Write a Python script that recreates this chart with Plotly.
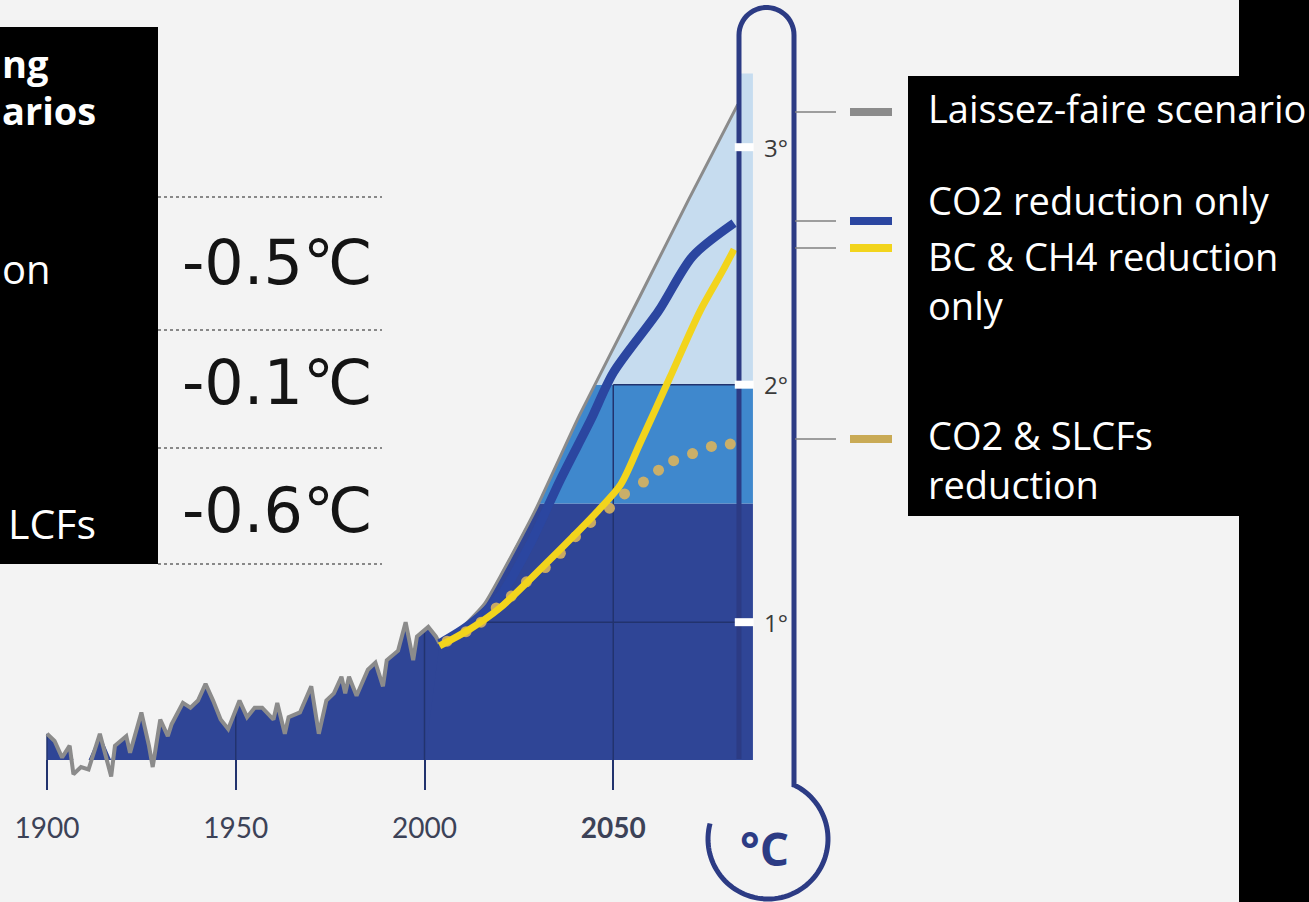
import numpy as np
import plotly.graph_objects as go

W, H = 1309, 902

# ---------------- data ----------------
hist_years = [1900, 1902, 1904, 1906, 1907, 1909, 1911, 1914, 1917, 1918, 1921, 1922,
              1925, 1927, 1928, 1930, 1932, 1933, 1936, 1938, 1940, 1942, 1944, 1946,
              1948, 1951, 1953, 1955, 1957, 1960, 1961, 1963, 1964, 1967, 1970, 1972,
              1974, 1976, 1978, 1979, 1980, 1982, 1985, 1987, 1989, 1990, 1993, 1995,
              1997, 1998, 2001, 2003, 2004]
hist_temp = [0.53, 0.50, 0.43, 0.48, 0.36, 0.39, 0.38, 0.53, 0.35, 0.48, 0.52, 0.45,
             0.62, 0.48, 0.39, 0.59, 0.52, 0.57, 0.66, 0.64, 0.67, 0.74, 0.67, 0.59,
             0.55, 0.67, 0.60, 0.64, 0.64, 0.59, 0.66, 0.53, 0.60, 0.62, 0.73, 0.53,
             0.67, 0.70, 0.77, 0.70, 0.77, 0.69, 0.80, 0.83, 0.73, 0.84, 0.88, 1.00,
             0.84, 0.94, 0.98, 0.94, 0.91]

laissez_years = [2004, 2008, 2012, 2016, 2029, 2041, 2057, 2070, 2083]
laissez_faire = [0.91, 0.95, 1.01, 1.08, 1.46, 1.87, 2.37, 2.78, 3.18]

co2_years = [2004, 2012, 2020, 2028, 2036, 2044, 2050, 2062, 2071, 2082]
co2_only = [0.91, 0.99, 1.11, 1.33, 1.60, 1.85, 2.05, 2.31, 2.54, 2.68]

bc_years = [2004, 2012, 2020, 2033, 2046, 2052, 2057, 2065, 2073, 2079, 2082]
bc_ch4_only = [0.90, 0.97, 1.06, 1.26, 1.47, 1.58, 1.75, 2.03, 2.31, 2.48, 2.57]

slcf_years = [2006, 2011, 2015, 2019, 2023, 2027, 2032, 2036, 2040, 2044, 2049,
              2053, 2058, 2062, 2066, 2071, 2076, 2081]
co2_slcf = [0.92, 0.96, 1.00, 1.06, 1.11, 1.17, 1.23, 1.29, 1.36, 1.42, 1.48,
            1.54, 1.59, 1.64, 1.68, 1.71, 1.74, 1.75]

tick_years = [1900, 1950, 2000, 2050]
tick_labels = ["1900", "1950", "2000", "<b>2050</b>"]
scale_degrees = [1, 2, 3]
scale_labels = ["1°", "2°", "3°"]
band_low, band_high = 1.5, 2.0
reduction_labels = ["-0.5℃", "-0.1℃", "-0.6℃"]
legend_labels = ["Laissez-faire scenario", "CO2 reduction only", "BC & CH4 reduction<br>only",
                 "CO2 & SLCFs<br>reduction"]
left_fragments = ["ng", "arios", "on", "LCFs"]   # visible tails of the cropped left panel

# ---------------- layout constants ----------------
PX_YEAR = 3.775
X0 = 1900 - 47 / PX_YEAR
X1 = X0 + W / PX_YEAR
PX_DEG = 237.5
YTOP = 3.6197
YBOT = YTOP - H / PX_DEG
BASE = 0.42
END_YEAR = 2087.0
TUBE_YEAR = 2083.2
TUBE_TOP = 3.31

NAVY = "#2f4596"
MID = "#3f88cd"
LIGHT = "#c6dcef"
GRAY = "#8b8b8b"
BLUE = "#2b46a0"
YELLOW = "#f2d41c"
TAN = "#d9b45e"
OUTLINE = "#2c3b84"
GRID = "#22336e"
BG = "#f3f3f3"


def px(x):
    return x / W


def py(y):
    return 1 - y / H


fig = go.Figure()

# ---------------- fills ----------------
ly = np.array(laissez_years, float)
lv = np.array(laissez_faire, float)
c15 = float(np.interp(band_low, lv, ly))
c20 = float(np.interp(band_high, lv, ly))
fine = np.linspace(ly[0], ly[-1], 500)
fine_v = np.interp(fine, ly, lv)

hx = list(hist_years) + [hist_years[-1], hist_years[0]]
hy = list(np.maximum(np.array(hist_temp), BASE)) + [BASE, BASE]
fig.add_trace(go.Scatter(x=hx, y=hy, fill="toself", fillcolor=NAVY, mode="lines",
                         line=dict(width=0), hoverinfo="skip", showlegend=False))

nx = list(fine) + [END_YEAR, END_YEAR, 2000]
ny = list(np.minimum(fine_v, band_low)) + [band_low, BASE, BASE]
fig.add_trace(go.Scatter(x=nx, y=ny, fill="toself", fillcolor=NAVY, mode="lines",
                         line=dict(width=0), hoverinfo="skip", showlegend=False))

mid_x = [c15] + list(fine[(fine > c15) & (fine < c20)]) + [c20]
mid_y = list(np.interp(mid_x, ly, lv))
fig.add_trace(go.Scatter(x=mid_x + [END_YEAR, END_YEAR], y=mid_y + [band_high, band_low],
                         fill="toself", fillcolor=MID, mode="lines", line=dict(width=0),
                         hoverinfo="skip", showlegend=False))

lt_x = [c20] + list(fine[fine > c20])
lt_y = list(np.interp(lt_x, ly, lv))
fig.add_trace(go.Scatter(x=lt_x + [TUBE_YEAR, END_YEAR, END_YEAR],
                         y=lt_y + [TUBE_TOP, TUBE_TOP, band_high],
                         fill="toself", fillcolor=LIGHT, mode="lines", line=dict(width=0),
                         hoverinfo="skip", showlegend=False))

# ---------------- reference lines ----------------
for yr in tick_years:
    top = band_high if yr == 2050 else float(np.interp(yr, hist_years, hist_temp))
    fig.add_trace(go.Scatter(x=[yr, yr], y=[BASE, top], mode="lines",
                             line=dict(color=GRID, width=1.5), hoverinfo="skip",
                             showlegend=False))
fig.add_trace(go.Scatter(x=[2012, TUBE_YEAR], y=[1, 1], mode="lines",
                         line=dict(color=GRID, width=1.5), hoverinfo="skip", showlegend=False))
fig.add_trace(go.Scatter(x=[2050, TUBE_YEAR], y=[2, 2], mode="lines",
                         line=dict(color=GRID, width=1.5), hoverinfo="skip", showlegend=False))

# ---------------- curves ----------------
fig.add_trace(go.Scatter(x=hist_years, y=hist_temp, mode="lines",
                         line=dict(color=GRAY, width=4), hoverinfo="skip", showlegend=False))
fig.add_trace(go.Scatter(x=laissez_years, y=laissez_faire, mode="lines",
                         line=dict(color=GRAY, width=3, shape="spline", smoothing=0.5),
                         name="Laissez-faire scenario", showlegend=False))
fig.add_trace(go.Scatter(x=co2_years, y=co2_only, mode="lines",
                         line=dict(color=BLUE, width=9, shape="spline", smoothing=0.8),
                         name="CO2 reduction only", showlegend=False))
fig.add_trace(go.Scatter(x=slcf_years, y=co2_slcf, mode="markers",
                         marker=dict(color=TAN, size=11, opacity=0.9, line=dict(width=0)),
                         name="CO2 & SLCFs reduction", showlegend=False))
fig.add_trace(go.Scatter(x=bc_years, y=bc_ch4_only, mode="lines",
                         line=dict(color=YELLOW, width=7, shape="spline", smoothing=0.8),
                         name="BC & CH4 reduction only", showlegend=False))

shapes = []

# thermometer outline
pts = [(739, 759), (739, 35)]
for a in np.linspace(180, 360, 30):
    pts.append((766.5 + 27.5 * np.cos(np.radians(a)), 35 + 27.5 * np.sin(np.radians(a))))
pts.append((794, 785))
for a in np.linspace(-64, 195, 80):
    pts.append((768 + 60 * np.cos(np.radians(a)), 839 + 60 * np.sin(np.radians(a))))
path = "M" + " L".join(f"{px(x):.5f},{py(y):.5f}" for x, y in pts)
shapes.append(dict(type="path", path=path, xref="paper", yref="paper",
                   line=dict(color=OUTLINE, width=5), layer="above"))

# white scale ticks on the tube
for d in scale_degrees:
    shapes.append(dict(type="line", xref="x", yref="y", x0=2082.2, x1=2087.2, y0=d, y1=d,
                       line=dict(color="white", width=8), layer="above"))

# legend connectors and swatches
legend_rows = [(112, GRAY), (221, BLUE), (248, YELLOW), (439, "#c9aa55")]
for yy, col in legend_rows:
    shapes.append(dict(type="line", xref="paper", yref="paper", x0=px(795), x1=px(836),
                       y0=py(yy), y1=py(yy), line=dict(color="#808080", width=1.5),
                       layer="above"))
    shapes.append(dict(type="line", xref="paper", yref="paper", x0=px(850), x1=px(892),
                       y0=py(yy), y1=py(yy), line=dict(color=col, width=8), layer="above"))

# dotted separators
for yy in [197, 330, 448, 564]:
    shapes.append(dict(type="line", xref="paper", yref="paper", x0=px(158), x1=px(382),
                       y0=py(yy), y1=py(yy), line=dict(color="#666666", width=1.5, dash="dot"),
                       layer="above"))

# black boxes
for x0, y0, x1, y1 in [(0, 27, 158, 564), (908, 76, 1239, 516), (1239, 0, 1309, 902)]:
    shapes.append(dict(type="rect", xref="paper", yref="paper", x0=px(x0), x1=px(x1),
                       y0=py(y1), y1=py(y0), fillcolor="black", line=dict(width=0),
                       layer="above"))

ann = []
# reduction values
for lab, yy in zip(reduction_labels, [263, 383, 510]):
    ann.append(dict(text=lab, x=px(277), y=py(yy), xref="paper", yref="paper",
                    showarrow=False, xanchor="center", yanchor="middle",
                    font=dict(family="DejaVu Sans", size=62, color="#141414")))
# scale labels
for lab, d in zip(scale_labels, scale_degrees):
    ann.append(dict(text=lab, x=2089.5, y=d, xref="x", yref="y", showarrow=False,
                    xanchor="left", yanchor="middle",
                    font=dict(family="Open Sans", size=24, color="#3a3a3a")))
# degree C in bulb
ann.append(dict(text="<b>°C</b>", x=px(764), y=py(848), xref="paper", yref="paper",
                showarrow=False, xanchor="center", yanchor="middle",
                font=dict(family="Open Sans", size=46, color=OUTLINE)))
# legend texts
for lab, yy in zip(legend_labels, [108, 200, 280, 459]):
    ann.append(dict(text=lab, x=px(926), y=py(yy), xref="paper", yref="paper",
                    showarrow=False, xanchor="left", yanchor="middle", align="left",
                    font=dict(family="Open Sans", size=38, color="white")))
# left panel fragments
for lab, x0, yy, bold, size in [(left_fragments[0], 0, 63, True, 38),
                                (left_fragments[1], 0, 110, True, 38),
                                (left_fragments[2], 0, 268, False, 40),
                                (left_fragments[3], 6, 523, False, 41)]:
    ann.append(dict(text=("<b>%s</b>" % lab) if bold else lab, x=px(x0), y=py(yy),
                    xref="paper", yref="paper", showarrow=False, xanchor="left",
                    yanchor="middle", font=dict(family="Open Sans", size=size, color="white")))

fig.update_layout(
    width=W, height=H, margin=dict(l=0, r=0, t=0, b=0),
    paper_bgcolor=BG, plot_bgcolor=BG,
    showlegend=False,
    xaxis=dict(range=[X0, X1], anchor="free", position=(H - 759) / H,
               showgrid=False, zeroline=False, showline=False,
               ticks="outside", ticklen=30, tickwidth=1.5, tickcolor=GRID,
               tickvals=tick_years, ticktext=tick_labels, ticklabelstandoff=14,
               tickfont=dict(family="Lato", size=28, color="#3c4257"), fixedrange=True),
    yaxis=dict(range=[YBOT, YTOP], visible=False, fixedrange=True),
    shapes=shapes, annotations=ann,
)

fig.write_html("out.html", config={"displayModeBar": False},
               post_script="document.body.style.margin='0px';"
                           "document.body.style.overflow='hidden';")
